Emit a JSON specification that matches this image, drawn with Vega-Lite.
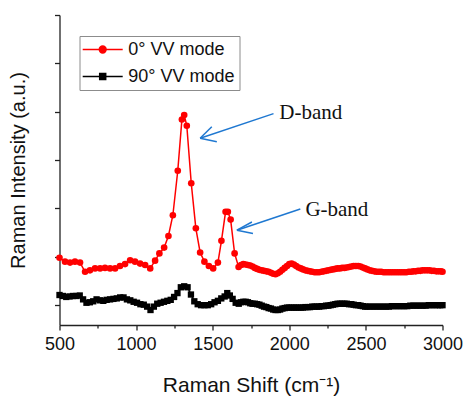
{
  "$schema": "https://vega.github.io/schema/vega-lite/v6.json",
  "autosize": {"type": "none"},
  "width": 383,
  "height": 310,
  "padding": {"left": 59.5, "top": 15, "right": 21.5, "bottom": 71},
  "config": {"font": "Liberation Sans", "view": {"stroke": null}},
  "datasets": {
    "spec": [
      {"s": "0° VV mode", "x": 500, "y": 0.98}, {"s": "0° VV mode", "x": 536, "y": 0.90}, {"s": "0° VV mode", "x": 569, "y": 0.88}, {"s": "0° VV mode", "x": 601, "y": 0.90}, {"s": "0° VV mode", "x": 634, "y": 0.88},
      {"s": "0° VV mode", "x": 667, "y": 0.69}, {"s": "0° VV mode", "x": 699, "y": 0.72}, {"s": "0° VV mode", "x": 732, "y": 0.76}, {"s": "0° VV mode", "x": 765, "y": 0.76}, {"s": "0° VV mode", "x": 797, "y": 0.77},
      {"s": "0° VV mode", "x": 830, "y": 0.76}, {"s": "0° VV mode", "x": 863, "y": 0.76}, {"s": "0° VV mode", "x": 895, "y": 0.81}, {"s": "0° VV mode", "x": 928, "y": 0.85}, {"s": "0° VV mode", "x": 961, "y": 0.93},
      {"s": "0° VV mode", "x": 993, "y": 0.90}, {"s": "0° VV mode", "x": 1026, "y": 0.86}, {"s": "0° VV mode", "x": 1059, "y": 0.83}, {"s": "0° VV mode", "x": 1092, "y": 0.76}, {"s": "0° VV mode", "x": 1124, "y": 0.92},
      {"s": "0° VV mode", "x": 1152, "y": 1.07}, {"s": "0° VV mode", "x": 1183, "y": 1.19}, {"s": "0° VV mode", "x": 1211, "y": 1.43}, {"s": "0° VV mode", "x": 1240, "y": 1.86}, {"s": "0° VV mode", "x": 1272, "y": 2.78},
      {"s": "0° VV mode", "x": 1299, "y": 3.84}, {"s": "0° VV mode", "x": 1314, "y": 3.93}, {"s": "0° VV mode", "x": 1331, "y": 3.71}, {"s": "0° VV mode", "x": 1360, "y": 2.52}, {"s": "0° VV mode", "x": 1390, "y": 1.59},
      {"s": "0° VV mode", "x": 1418, "y": 1.09}, {"s": "0° VV mode", "x": 1446, "y": 0.90}, {"s": "0° VV mode", "x": 1475, "y": 0.81}, {"s": "0° VV mode", "x": 1503, "y": 0.76}, {"s": "0° VV mode", "x": 1534, "y": 0.88},
      {"s": "0° VV mode", "x": 1557, "y": 1.33}, {"s": "0° VV mode", "x": 1584, "y": 1.93}, {"s": "0° VV mode", "x": 1599, "y": 1.93}, {"s": "0° VV mode", "x": 1617, "y": 1.77}, {"s": "0° VV mode", "x": 1643, "y": 1.07},
      {"s": "0° VV mode", "x": 1669, "y": 0.79}, {"s": "0° VV mode", "x": 1685, "y": 0.83}, {"s": "0° VV mode", "x": 1700, "y": 0.85}, {"s": "0° VV mode", "x": 1715, "y": 0.84}, {"s": "0° VV mode", "x": 1730, "y": 0.83},
      {"s": "0° VV mode", "x": 1745, "y": 0.82}, {"s": "0° VV mode", "x": 1760, "y": 0.80}, {"s": "0° VV mode", "x": 1775, "y": 0.77}, {"s": "0° VV mode", "x": 1790, "y": 0.75}, {"s": "0° VV mode", "x": 1805, "y": 0.73},
      {"s": "0° VV mode", "x": 1820, "y": 0.72}, {"s": "0° VV mode", "x": 1835, "y": 0.71}, {"s": "0° VV mode", "x": 1850, "y": 0.70}, {"s": "0° VV mode", "x": 1865, "y": 0.69}, {"s": "0° VV mode", "x": 1880, "y": 0.67},
      {"s": "0° VV mode", "x": 1895, "y": 0.65}, {"s": "0° VV mode", "x": 1910, "y": 0.64}, {"s": "0° VV mode", "x": 1925, "y": 0.66}, {"s": "0° VV mode", "x": 1940, "y": 0.69}, {"s": "0° VV mode", "x": 1955, "y": 0.73},
      {"s": "0° VV mode", "x": 1970, "y": 0.77}, {"s": "0° VV mode", "x": 1985, "y": 0.81}, {"s": "0° VV mode", "x": 2000, "y": 0.85}, {"s": "0° VV mode", "x": 2015, "y": 0.86}, {"s": "0° VV mode", "x": 2030, "y": 0.84},
      {"s": "0° VV mode", "x": 2045, "y": 0.81}, {"s": "0° VV mode", "x": 2060, "y": 0.78}, {"s": "0° VV mode", "x": 2075, "y": 0.76}, {"s": "0° VV mode", "x": 2090, "y": 0.74}, {"s": "0° VV mode", "x": 2105, "y": 0.72},
      {"s": "0° VV mode", "x": 2120, "y": 0.71}, {"s": "0° VV mode", "x": 2135, "y": 0.70}, {"s": "0° VV mode", "x": 2150, "y": 0.69}, {"s": "0° VV mode", "x": 2165, "y": 0.68}, {"s": "0° VV mode", "x": 2180, "y": 0.68},
      {"s": "0° VV mode", "x": 2195, "y": 0.68}, {"s": "0° VV mode", "x": 2210, "y": 0.69}, {"s": "0° VV mode", "x": 2225, "y": 0.70}, {"s": "0° VV mode", "x": 2240, "y": 0.71}, {"s": "0° VV mode", "x": 2255, "y": 0.72},
      {"s": "0° VV mode", "x": 2270, "y": 0.73}, {"s": "0° VV mode", "x": 2285, "y": 0.74}, {"s": "0° VV mode", "x": 2300, "y": 0.75}, {"s": "0° VV mode", "x": 2315, "y": 0.76}, {"s": "0° VV mode", "x": 2330, "y": 0.76},
      {"s": "0° VV mode", "x": 2345, "y": 0.77}, {"s": "0° VV mode", "x": 2360, "y": 0.77}, {"s": "0° VV mode", "x": 2375, "y": 0.78}, {"s": "0° VV mode", "x": 2390, "y": 0.79}, {"s": "0° VV mode", "x": 2405, "y": 0.80},
      {"s": "0° VV mode", "x": 2420, "y": 0.81}, {"s": "0° VV mode", "x": 2435, "y": 0.81}, {"s": "0° VV mode", "x": 2450, "y": 0.81}, {"s": "0° VV mode", "x": 2465, "y": 0.80}, {"s": "0° VV mode", "x": 2480, "y": 0.78},
      {"s": "0° VV mode", "x": 2495, "y": 0.76}, {"s": "0° VV mode", "x": 2510, "y": 0.74}, {"s": "0° VV mode", "x": 2525, "y": 0.72}, {"s": "0° VV mode", "x": 2540, "y": 0.71}, {"s": "0° VV mode", "x": 2555, "y": 0.70},
      {"s": "0° VV mode", "x": 2570, "y": 0.69}, {"s": "0° VV mode", "x": 2585, "y": 0.69}, {"s": "0° VV mode", "x": 2600, "y": 0.69}, {"s": "0° VV mode", "x": 2615, "y": 0.68}, {"s": "0° VV mode", "x": 2630, "y": 0.68},
      {"s": "0° VV mode", "x": 2645, "y": 0.68}, {"s": "0° VV mode", "x": 2660, "y": 0.68}, {"s": "0° VV mode", "x": 2675, "y": 0.68}, {"s": "0° VV mode", "x": 2690, "y": 0.68}, {"s": "0° VV mode", "x": 2705, "y": 0.68},
      {"s": "0° VV mode", "x": 2720, "y": 0.68}, {"s": "0° VV mode", "x": 2735, "y": 0.68}, {"s": "0° VV mode", "x": 2750, "y": 0.68}, {"s": "0° VV mode", "x": 2765, "y": 0.68}, {"s": "0° VV mode", "x": 2780, "y": 0.69},
      {"s": "0° VV mode", "x": 2795, "y": 0.69}, {"s": "0° VV mode", "x": 2810, "y": 0.70}, {"s": "0° VV mode", "x": 2825, "y": 0.70}, {"s": "0° VV mode", "x": 2840, "y": 0.71}, {"s": "0° VV mode", "x": 2855, "y": 0.71},
      {"s": "0° VV mode", "x": 2870, "y": 0.72}, {"s": "0° VV mode", "x": 2885, "y": 0.72}, {"s": "0° VV mode", "x": 2900, "y": 0.72}, {"s": "0° VV mode", "x": 2915, "y": 0.72}, {"s": "0° VV mode", "x": 2930, "y": 0.71},
      {"s": "0° VV mode", "x": 2945, "y": 0.71}, {"s": "0° VV mode", "x": 2960, "y": 0.70}, {"s": "0° VV mode", "x": 2975, "y": 0.70}, {"s": "0° VV mode", "x": 2990, "y": 0.70}, {"s": "0° VV mode", "x": 3000, "y": 0.69},
      {"s": "90° VV mode", "x": 500, "y": 0.21}, {"s": "90° VV mode", "x": 522, "y": 0.19}, {"s": "90° VV mode", "x": 544, "y": 0.17}, {"s": "90° VV mode", "x": 566, "y": 0.18}, {"s": "90° VV mode", "x": 588, "y": 0.19},
      {"s": "90° VV mode", "x": 610, "y": 0.19}, {"s": "90° VV mode", "x": 632, "y": 0.20}, {"s": "90° VV mode", "x": 654, "y": 0.12}, {"s": "90° VV mode", "x": 676, "y": 0.05}, {"s": "90° VV mode", "x": 698, "y": 0.06},
      {"s": "90° VV mode", "x": 720, "y": 0.08}, {"s": "90° VV mode", "x": 742, "y": 0.12}, {"s": "90° VV mode", "x": 764, "y": 0.10}, {"s": "90° VV mode", "x": 786, "y": 0.09}, {"s": "90° VV mode", "x": 808, "y": 0.11},
      {"s": "90° VV mode", "x": 830, "y": 0.12}, {"s": "90° VV mode", "x": 852, "y": 0.13}, {"s": "90° VV mode", "x": 874, "y": 0.14}, {"s": "90° VV mode", "x": 896, "y": 0.16}, {"s": "90° VV mode", "x": 918, "y": 0.16},
      {"s": "90° VV mode", "x": 940, "y": 0.12}, {"s": "90° VV mode", "x": 962, "y": 0.10}, {"s": "90° VV mode", "x": 984, "y": 0.07}, {"s": "90° VV mode", "x": 1006, "y": 0.05}, {"s": "90° VV mode", "x": 1028, "y": 0.02},
      {"s": "90° VV mode", "x": 1050, "y": 0.01}, {"s": "90° VV mode", "x": 1072, "y": -0.03}, {"s": "90° VV mode", "x": 1094, "y": -0.10}, {"s": "90° VV mode", "x": 1116, "y": -0.03}, {"s": "90° VV mode", "x": 1138, "y": 0.03},
      {"s": "90° VV mode", "x": 1160, "y": 0.05}, {"s": "90° VV mode", "x": 1182, "y": 0.07}, {"s": "90° VV mode", "x": 1204, "y": 0.09}, {"s": "90° VV mode", "x": 1226, "y": 0.11}, {"s": "90° VV mode", "x": 1248, "y": 0.17},
      {"s": "90° VV mode", "x": 1270, "y": 0.25}, {"s": "90° VV mode", "x": 1292, "y": 0.37}, {"s": "90° VV mode", "x": 1314, "y": 0.39}, {"s": "90° VV mode", "x": 1336, "y": 0.37}, {"s": "90° VV mode", "x": 1358, "y": 0.22},
      {"s": "90° VV mode", "x": 1380, "y": 0.08}, {"s": "90° VV mode", "x": 1402, "y": 0.02}, {"s": "90° VV mode", "x": 1424, "y": 0.00}, {"s": "90° VV mode", "x": 1446, "y": 0.00}, {"s": "90° VV mode", "x": 1468, "y": 0.00},
      {"s": "90° VV mode", "x": 1490, "y": 0.02}, {"s": "90° VV mode", "x": 1512, "y": 0.06}, {"s": "90° VV mode", "x": 1534, "y": 0.09}, {"s": "90° VV mode", "x": 1556, "y": 0.14}, {"s": "90° VV mode", "x": 1578, "y": 0.18},
      {"s": "90° VV mode", "x": 1595, "y": 0.25}, {"s": "90° VV mode", "x": 1612, "y": 0.20}, {"s": "90° VV mode", "x": 1630, "y": 0.13}, {"s": "90° VV mode", "x": 1650, "y": 0.05}, {"s": "90° VV mode", "x": 1670, "y": 0.03},
      {"s": "90° VV mode", "x": 1685, "y": 0.06}, {"s": "90° VV mode", "x": 1700, "y": 0.07}, {"s": "90° VV mode", "x": 1715, "y": 0.07}, {"s": "90° VV mode", "x": 1730, "y": 0.06}, {"s": "90° VV mode", "x": 1745, "y": 0.04},
      {"s": "90° VV mode", "x": 1760, "y": 0.03}, {"s": "90° VV mode", "x": 1775, "y": 0.03}, {"s": "90° VV mode", "x": 1790, "y": 0.02}, {"s": "90° VV mode", "x": 1805, "y": 0.01}, {"s": "90° VV mode", "x": 1820, "y": -0.01},
      {"s": "90° VV mode", "x": 1835, "y": -0.03}, {"s": "90° VV mode", "x": 1850, "y": -0.04}, {"s": "90° VV mode", "x": 1865, "y": -0.06}, {"s": "90° VV mode", "x": 1880, "y": -0.07}, {"s": "90° VV mode", "x": 1895, "y": -0.09},
      {"s": "90° VV mode", "x": 1910, "y": -0.10}, {"s": "90° VV mode", "x": 1925, "y": -0.10}, {"s": "90° VV mode", "x": 1940, "y": -0.09}, {"s": "90° VV mode", "x": 1955, "y": -0.07}, {"s": "90° VV mode", "x": 1970, "y": -0.06},
      {"s": "90° VV mode", "x": 1985, "y": -0.05}, {"s": "90° VV mode", "x": 2000, "y": -0.05}, {"s": "90° VV mode", "x": 2015, "y": -0.05}, {"s": "90° VV mode", "x": 2030, "y": -0.05}, {"s": "90° VV mode", "x": 2045, "y": -0.05},
      {"s": "90° VV mode", "x": 2060, "y": -0.05}, {"s": "90° VV mode", "x": 2075, "y": -0.05}, {"s": "90° VV mode", "x": 2090, "y": -0.05}, {"s": "90° VV mode", "x": 2105, "y": -0.04}, {"s": "90° VV mode", "x": 2120, "y": -0.04},
      {"s": "90° VV mode", "x": 2135, "y": -0.04}, {"s": "90° VV mode", "x": 2150, "y": -0.03}, {"s": "90° VV mode", "x": 2165, "y": -0.03}, {"s": "90° VV mode", "x": 2180, "y": -0.03}, {"s": "90° VV mode", "x": 2195, "y": -0.03},
      {"s": "90° VV mode", "x": 2210, "y": -0.02}, {"s": "90° VV mode", "x": 2225, "y": -0.02}, {"s": "90° VV mode", "x": 2240, "y": -0.01}, {"s": "90° VV mode", "x": 2255, "y": -0.01}, {"s": "90° VV mode", "x": 2270, "y": 0.00},
      {"s": "90° VV mode", "x": 2285, "y": 0.01}, {"s": "90° VV mode", "x": 2300, "y": 0.02}, {"s": "90° VV mode", "x": 2315, "y": 0.03}, {"s": "90° VV mode", "x": 2330, "y": 0.03}, {"s": "90° VV mode", "x": 2345, "y": 0.03},
      {"s": "90° VV mode", "x": 2360, "y": 0.03}, {"s": "90° VV mode", "x": 2375, "y": 0.03}, {"s": "90° VV mode", "x": 2390, "y": 0.02}, {"s": "90° VV mode", "x": 2405, "y": 0.02}, {"s": "90° VV mode", "x": 2420, "y": 0.01},
      {"s": "90° VV mode", "x": 2435, "y": 0.00}, {"s": "90° VV mode", "x": 2450, "y": 0.00}, {"s": "90° VV mode", "x": 2465, "y": -0.01}, {"s": "90° VV mode", "x": 2480, "y": -0.02}, {"s": "90° VV mode", "x": 2495, "y": -0.03},
      {"s": "90° VV mode", "x": 2510, "y": -0.03}, {"s": "90° VV mode", "x": 2530, "y": -0.03}, {"s": "90° VV mode", "x": 2550, "y": -0.03}, {"s": "90° VV mode", "x": 2570, "y": -0.03}, {"s": "90° VV mode", "x": 2590, "y": -0.03},
      {"s": "90° VV mode", "x": 2610, "y": -0.03}, {"s": "90° VV mode", "x": 2630, "y": -0.03}, {"s": "90° VV mode", "x": 2650, "y": -0.03}, {"s": "90° VV mode", "x": 2670, "y": -0.02}, {"s": "90° VV mode", "x": 2690, "y": -0.02},
      {"s": "90° VV mode", "x": 2710, "y": -0.02}, {"s": "90° VV mode", "x": 2730, "y": -0.02}, {"s": "90° VV mode", "x": 2750, "y": -0.02}, {"s": "90° VV mode", "x": 2770, "y": -0.02}, {"s": "90° VV mode", "x": 2790, "y": -0.01},
      {"s": "90° VV mode", "x": 2810, "y": -0.01}, {"s": "90° VV mode", "x": 2830, "y": -0.01}, {"s": "90° VV mode", "x": 2850, "y": -0.01}, {"s": "90° VV mode", "x": 2870, "y": -0.01}, {"s": "90° VV mode", "x": 2890, "y": -0.01},
      {"s": "90° VV mode", "x": 2910, "y": 0.00}, {"s": "90° VV mode", "x": 2930, "y": 0.00}, {"s": "90° VV mode", "x": 2950, "y": 0.00}, {"s": "90° VV mode", "x": 2970, "y": 0.00}, {"s": "90° VV mode", "x": 2985, "y": 0.00},
      {"s": "90° VV mode", "x": 3000, "y": 0.00}
    ],
    "arrows": [
      {"x": 1897, "y": 3.96, "x2": 1418, "y2": 3.45},
      {"x": 1418, "y": 3.45, "x2": 1494, "y2": 3.69},
      {"x": 1418, "y": 3.45, "x2": 1527, "y2": 3.38},
      {"x": 2072, "y": 1.99, "x2": 1658, "y2": 1.55},
      {"x": 1658, "y": 1.55, "x2": 1756, "y2": 1.72},
      {"x": 1658, "y": 1.55, "x2": 1763, "y2": 1.48}
    ],
    "labels": [
      {"label": "D-band", "x": 1935, "y": 3.85},
      {"label": "G-band", "x": 2105, "y": 1.84}
    ]
  },
  "resolve": {"axis": {"x": "independent"}},
  "layer": [
    {
      "data": {"name": "spec"},
      "mark": {"type": "line", "strokeWidth": 1.5},
      "encoding": {
        "x": {
          "field": "x", "type": "quantitative",
          "scale": {"domain": [500, 3000], "nice": false, "zero": false},
          "axis": {
            "values": [500, 1000, 1500, 2000, 2500, 3000], "format": "d", "grid": false,
            "tickSize": 5, "tickWidth": 1.3, "tickColor": "#222", "domainColor": "#222", "domainWidth": 1.3,
            "labelFontSize": 18, "labelColor": "#111", "labelPadding": 5, "labelFlush": false,
            "title": "Raman Shift (cm⁻¹)", "titleFontSize": 21, "titleFontWeight": "normal", "titleColor": "#111", "titlePadding": 21
          }
        },
        "y": {
          "field": "y", "type": "quantitative",
          "scale": {"domain": [-0.41, 6.0], "nice": false, "zero": false},
          "axis": {
            "values": [0, 1, 2, 3, 4, 5, 6], "labels": false, "grid": false,
            "tickSize": 5, "tickWidth": 1.3, "tickColor": "#222", "domainColor": "#222", "domainWidth": 1.3,
            "title": "Raman Intensity (a.u.)", "titleFontSize": 20, "titleFontWeight": "normal", "titleColor": "#111", "titlePadding": 25
          }
        },
        "color": {
          "field": "s", "type": "nominal",
          "scale": {"domain": ["0° VV mode", "90° VV mode"], "range": ["#ff0000", "#000000"]},
          "legend": {
            "title": null, "orient": "none", "legendX": 20, "legendY": 21,
            "padding": 4.5, "strokeColor": "#8c8c8c", "fillColor": "white",
            "labelFontSize": 18, "labelColor": "#111", "labelFont": "Liberation Sans",
            "symbolSize": 100, "symbolStrokeWidth": 1.5, "symbolOffset": 9.7, "labelOffset": 16.5, "rowPadding": 9,
            "encode": {
              "symbols": {
                "update": {
                  "shape": {"signal": "datum.value === '0° VV mode' ? 'M-4,0H4M-0.68,0A0.68,0.68 0 1,1 0.68,0A0.68,0.68 0 1,1 -0.68,0Z' : 'M-4,0H4M-0.6,-0.6H0.6V0.6H-0.6Z'"},
                  "fill": {"scale": "color", "field": "value"},
                  "stroke": {"scale": "color", "field": "value"},
                  "strokeWidth": {"value": 1.5}
                }
              }
            }
          }
        }
      }
    },
    {
      "data": {"name": "spec"},
      "transform": [{"filter": "datum.s === '0° VV mode'"}],
      "mark": {"type": "point", "filled": true, "opacity": 1, "size": 44, "shape": "circle"},
      "encoding": {
        "x": {"field": "x", "type": "quantitative", "axis": null},
        "y": {"field": "y", "type": "quantitative"},
        "color": {"field": "s", "type": "nominal"}
      }
    },
    {
      "data": {"name": "spec"},
      "transform": [{"filter": "datum.s === '90° VV mode'"}],
      "mark": {"type": "point", "filled": true, "opacity": 1, "size": 40, "shape": "square"},
      "encoding": {
        "x": {"field": "x", "type": "quantitative", "axis": null},
        "y": {"field": "y", "type": "quantitative"},
        "color": {"field": "s", "type": "nominal"}
      }
    },
    {
      "data": {"name": "arrows"},
      "mark": {"type": "rule", "color": "#1f78d1", "strokeWidth": 1.5},
      "encoding": {
        "x": {
          "field": "x", "type": "quantitative",
          "axis": {"orient": "bottom", "values": [750, 1250, 1750, 2250, 2750], "labels": false, "domain": false, "grid": false, "tickSize": 3, "tickWidth": 1.3, "tickColor": "#222", "title": null}
        },
        "x2": {"field": "x2"},
        "y": {"field": "y", "type": "quantitative"},
        "y2": {"field": "y2"}
      }
    },
    {
      "data": {"name": "labels"},
      "mark": {"type": "text", "font": "Liberation Serif", "fontSize": 21, "align": "left", "baseline": "alphabetic", "color": "#111"},
      "encoding": {
        "x": {"field": "x", "type": "quantitative", "axis": null},
        "y": {"field": "y", "type": "quantitative"},
        "text": {"field": "label"}
      }
    }
  ]
}
